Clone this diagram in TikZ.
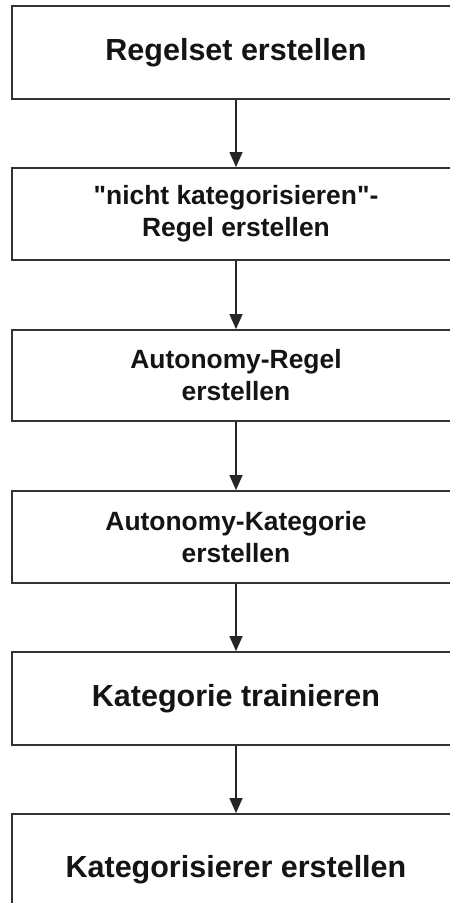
\documentclass[tikz,border=0pt]{standalone}
\usepackage{fontspec}
% TeXOff keeps the plain double quote straight
\setmainfont{Liberation Sans}[Ligatures=TeXOff]
\usetikzlibrary{arrows.meta}
\begin{document}
\begin{tikzpicture}[x=1pt,y=-1pt,
  stepbox/.style={draw=black!80, line width=1.8pt, fill=white,
    minimum width=448pt, inner sep=0pt, align=center, text=black!92},
  oneline/.style={font=\bfseries\fontsize{30.5}{36}\selectfont},
  twoline/.style={font=\bfseries\fontsize{26.4}{32}\selectfont},
  flow/.style={draw=black!85, line width=1.3pt,
    -{Triangle[width=13pt,length=15pt]}}]
  \useasboundingbox (0,0) rectangle (450,903);
  \clip (0,0) rectangle (450,903);
  \fill[white] (0,0) rectangle (450,903);

  \node[stepbox, oneline, minimum height=93pt] (b1) at (236,52.5) {Regelset erstellen};
  \node[stepbox, twoline, minimum height=92pt] (b2) at (236,214) {"nicht kategorisieren"-\\Regel erstellen};
  \node[stepbox, twoline, minimum height=91pt] (b3) at (236,375.5) {Autonomy-Regel\\erstellen};
  \node[stepbox, twoline, minimum height=92pt] (b4) at (236,537) {Autonomy-Kategorie\\erstellen};
  \node[stepbox, oneline, minimum height=93pt] (b5) at (236,698.5) {Kategorie trainieren};
  \node[stepbox, oneline, minimum height=111pt] (b6) at (236,869.5) {Kategorisierer erstellen};

  \draw[flow] (b1.south) -- (b2.north);
  \draw[flow] (b2.south) -- (b3.north);
  \draw[flow] (b3.south) -- (b4.north);
  \draw[flow] (b4.south) -- (b5.north);
  \draw[flow] (b5.south) -- (b6.north);
\end{tikzpicture}
\end{document}
